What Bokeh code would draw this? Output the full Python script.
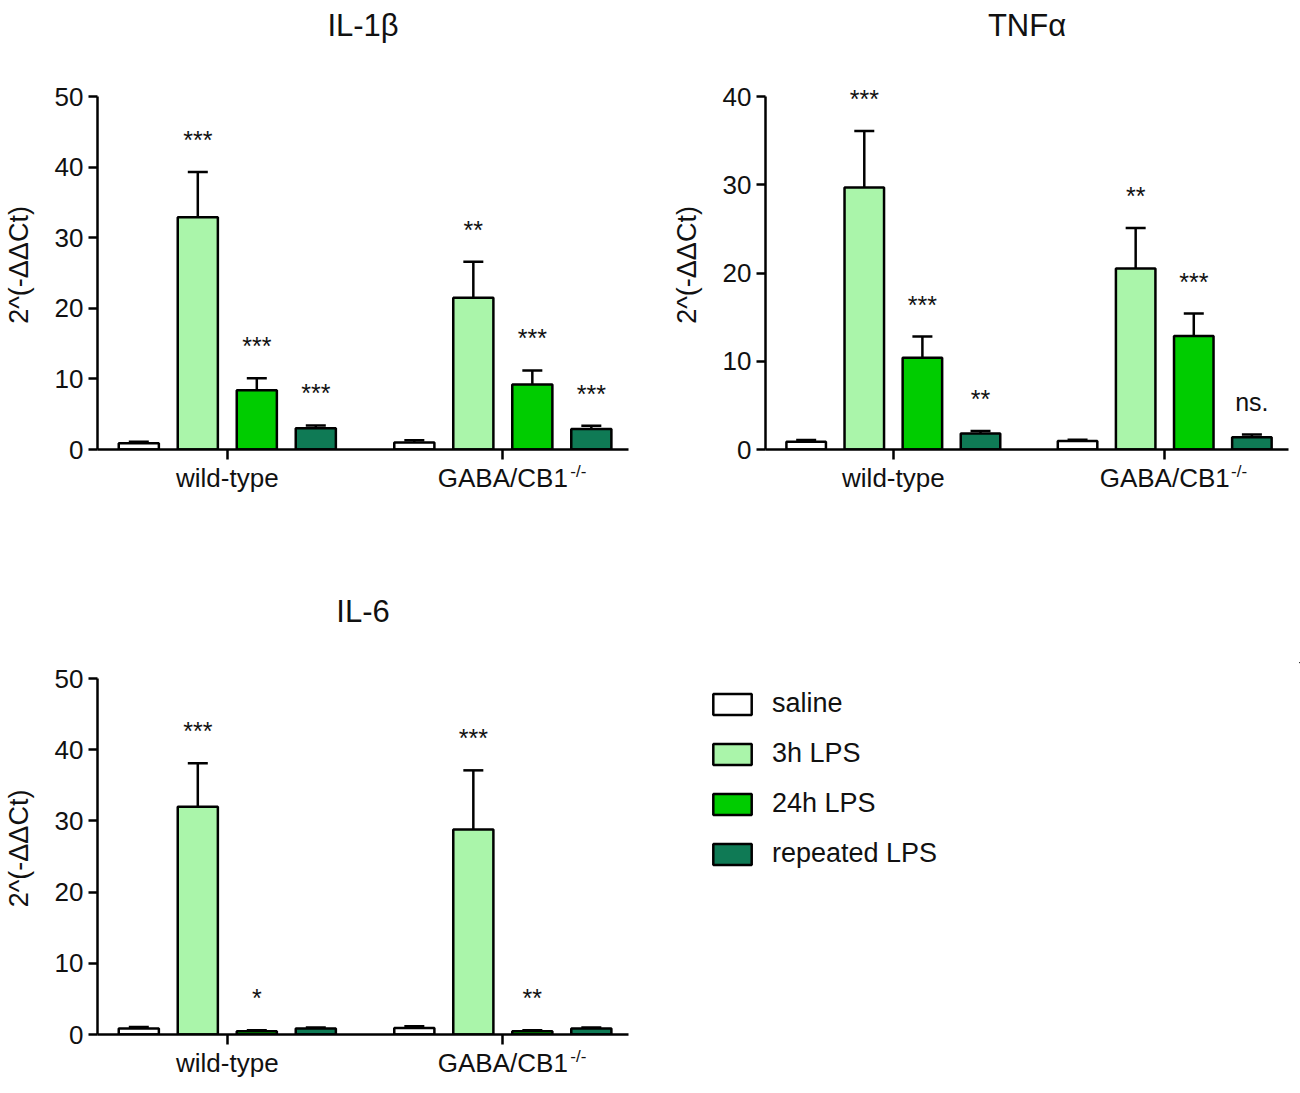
from bokeh.plotting import figure
from bokeh.models import (ColumnDataSource, Range1d, FixedTicker, Whisker, TeeHead,
                          Legend, LegendItem, LinearAxis)
from bokeh.layouts import row, column
from bokeh.embed import file_html
from bokeh.resources import INLINE
from bokeh.core.properties import value

FONT = "Liberation Sans"
INK = "#111111"

# ---------------- data ----------------
groups = ["wild-type", "GABA/CB1"]
group_sup = ["", "-/-"]
treatments = ["saline", "3h LPS", "24h LPS", "repeated LPS"]
colors = ["#ffffff", "#aaf5aa", "#00cc00", "#0f7a55"]

il1b_wt = [0.9, 32.9, 8.4, 3.0]
il1b_wt_err = [0.2, 6.4, 1.7, 0.4]
il1b_ko = [1.0, 21.5, 9.2, 2.9]
il1b_ko_err = [0.3, 5.1, 2.0, 0.45]
il1b_wt_sig = ["", "***", "***", "***"]
il1b_ko_sig = ["", "**", "***", "***"]

tnf_wt = [0.87, 29.7, 10.4, 1.8]
tnf_wt_err = [0.2, 6.4, 2.4, 0.3]
tnf_ko = [0.95, 20.5, 12.85, 1.4]
tnf_ko_err = [0.15, 4.6, 2.55, 0.3]
tnf_wt_sig = ["", "***", "***", "**"]
tnf_ko_sig = ["", "**", "***", "ns."]

il6_wt = [0.84, 32.0, 0.47, 0.84]
il6_wt_err = [0.23, 6.1, 0.13, 0.16]
il6_ko = [0.93, 28.8, 0.47, 0.84]
il6_ko_err = [0.22, 8.3, 0.13, 0.16]
il6_wt_sig = ["", "***", "*", ""]
il6_ko_sig = ["", "***", "**", ""]

y_title = "2^(-ΔΔCt)"

GROUP_GAP = 4.67
BAR_W = 0.68
EXT = 16  # px of frame kept above the y-axis top so labels near it are not clipped


def panel(title, wt, wt_err, ko, ko_err, wt_sig, ko_sig, ymax, ystep,
          width, height, bl, br, bt, bb, gap):
    xs, tops, uppers, fills, sigs = [], [], [], [], []
    for g, (m, e, s) in enumerate([(wt, wt_err, wt_sig), (ko, ko_err, ko_sig)]):
        for i in range(len(treatments)):
            xs.append(g * GROUP_GAP + i)
            tops.append(m[i])
            uppers.append(m[i] + e[i])
            fills.append(colors[i])
            sigs.append(s[i])
    src = ColumnDataSource(dict(x=xs, top=tops, upper=uppers, fill=fills, sig=sigs))

    axis_h = height - bt - bb          # pixel height of 0..ymax
    y_end = ymax * (axis_h + EXT) / axis_h
    p = figure(width=width, height=height, output_backend="svg", toolbar_location=None,
               x_range=Range1d(-0.7, 8.3), y_range=Range1d(0, y_end),
               min_border_left=bl, min_border_right=br, min_border_top=bt - EXT,
               min_border_bottom=bb)
    p.outline_line_color = None
    p.xgrid.visible = False
    p.ygrid.visible = False
    p.background_fill_color = "white"

    p.title.text = title
    p.title.align = "center"
    p.title.text_font = FONT
    p.title.text_font_size = "31px"
    p.title.text_font_style = "normal"
    p.title.text_color = INK
    p.title.standoff = 0

    p.vbar(x="x", top="top", bottom=0, width=BAR_W, source=src,
           fill_color="fill", line_color="black", line_width=2.5)
    wh = Whisker(base="x", lower="top", upper="upper", source=src, dimension="height",
                 line_color="black", line_width=2.5,
                 upper_head=TeeHead(size=20, line_color="black", line_width=2.5),
                 lower_head=None)
    p.add_layout(wh)
    p.text(x="x", y="upper", text="sig", source=src, text_align="center",
           text_baseline="alphabetic", y_offset=-32, text_font=value(FONT),
           text_font_size="25px", text_color=INK)

    # axes
    xax = p.below[0]
    yax = p.left[0]
    for ax in (xax, yax):
        ax.axis_line_width = 2.5
        ax.axis_line_color = "black"
        ax.major_tick_line_width = 2.5
        ax.major_tick_line_color = "black"
        ax.major_tick_in = 0
        ax.minor_tick_line_color = None
        ax.major_label_text_font = FONT
        ax.major_label_text_color = INK
    yax.bounds = (0, ymax)
    yax.ticker = FixedTicker(ticks=list(range(0, ymax + 1, ystep)))
    yax.major_tick_out = 9
    yax.major_label_standoff = 5
    yax.major_label_text_font_size = "26px"
    yax.axis_label = y_title
    yax.axis_label_text_font = FONT
    yax.axis_label_text_font_size = "27px"
    yax.axis_label_text_font_style = "normal"
    yax.axis_label_text_color = INK
    yax.axis_label_standoff = 18

    centers = [round(g * GROUP_GAP + 1.5, 4) for g in range(len(groups))]
    xax.ticker = FixedTicker(ticks=centers)
    xax.major_tick_out = 10
    xax.major_label_standoff = 3
    xax.major_label_text_font_size = "26px"
    xax.major_label_overrides = {c: n for c, n in zip(centers, groups)}

    # superscript genotype marks, on a label-only axis pulled up beside the names
    sup_pos = [round(c + 1.28, 4) for c, s in zip(centers, group_sup) if s]
    sup_txt = [s for s in group_sup if s]
    sup_ax = LinearAxis(ticker=FixedTicker(ticks=sup_pos),
                        major_label_overrides={c: s for c, s in zip(sup_pos, sup_txt)},
                        axis_line_color=None, major_tick_line_color=None,
                        minor_tick_line_color=None, major_tick_out=0, major_tick_in=0,
                        major_label_standoff=-34, major_label_text_font=FONT,
                        major_label_text_font_size="17px", major_label_text_color=INK)
    p.add_layout(sup_ax, "below")

    # invisible axis between frame and title (one hidden tick, blank label):
    # it only reserves room so that the title sits higher
    gap_ax = LinearAxis(ticker=FixedTicker(ticks=[centers[0]]),
                        major_label_overrides={centers[0]: ""},
                        axis_line_color=None, major_tick_line_color=None,
                        minor_tick_line_color=None, major_tick_in=0,
                        major_tick_out=gap, minor_tick_in=0, minor_tick_out=0,
                        major_label_standoff=0, major_label_text_font_size="1px")
    p.add_layout(gap_ax, "above")
    return p


p1 = panel("IL-1β", il1b_wt, il1b_wt_err, il1b_ko, il1b_ko_err, il1b_wt_sig, il1b_ko_sig,
           50, 10, 668, 590, 97, 40, 96, 141, 38)
p2 = panel("TNFα", tnf_wt, tnf_wt_err, tnf_ko, tnf_ko_err, tnf_wt_sig, tnf_ko_sig,
           40, 10, 632, 590, 89, 12, 96, 141, 38)
p3 = panel("IL-6", il6_wt, il6_wt_err, il6_ko, il6_ko_err, il6_wt_sig, il6_ko_sig,
           50, 10, 668, 494, 97, 40, 88, 50, 34)

# legend figure (borders equal to p3's so the row keeps the frames aligned)
lf = figure(width=632, height=494, output_backend="svg", toolbar_location=None,
            x_axis_location=None, y_axis_location=None,
            x_range=Range1d(0, 1), y_range=Range1d(0, 1),
            min_border_left=14, min_border_top=88 - EXT, min_border_right=0,
            min_border_bottom=50)
lf.outline_line_color = None
lf.grid.visible = False
items = []
for t, c in zip(treatments, colors):
    r = lf.vbar(x=[10], top=[10], bottom=9, width=1, fill_color=c, line_color="black",
                line_width=2.5)
    items.append(LegendItem(label=t, renderers=[r]))
leg = Legend(items=items, location="top_left", glyph_width=48, glyph_height=26,
             label_standoff=16, spacing=19, padding=0, margin=26,
             border_line_color=None, background_fill_alpha=0,
             label_text_font=FONT, label_text_font_size="27px", label_text_color=INK,
             label_height=22)
lf.add_layout(leg, "center")

layout = column(row(p1, p2), row(p3, lf))
open("out.html", "w").write(file_html(layout, INLINE))
